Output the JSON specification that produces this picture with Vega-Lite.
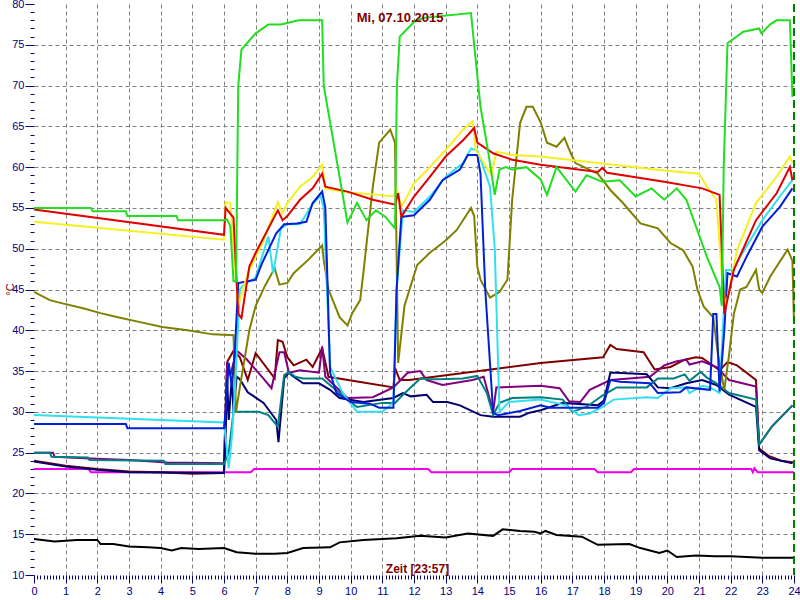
{
  "$schema": "https://vega.github.io/schema/vega-lite/v6.json",
  "width": 760,
  "height": 571,
  "autosize": {"type": "none"},
  "padding": {"left": 34, "top": 4, "right": 6, "bottom": 25},
  "background": "white",
  "config": {"view": {"stroke": null}, "font": "Liberation Sans"},
  "resolve": {"axis": {"x": "independent", "y": "independent"}},
  "datasets": {
    "temps": [
      {"s":"k","h":0,"t":14.4},{"s":"k","h":0.65,"t":14.1},{"s":"k","h":1.35,"t":14.3},{"s":"k","h":2.0,"t":14.3},{"s":"k","h":2.1,"t":13.8},{"s":"k","h":2.5,"t":13.8},{"s":"k","h":3.0,"t":13.5},{"s":"k","h":3.6,"t":13.4},{"s":"k","h":4.0,"t":13.3},{"s":"k","h":4.35,"t":13.0},{"s":"k","h":4.65,"t":13.3},{"s":"k","h":5.2,"t":13.2},{"s":"k","h":6.0,"t":13.3},{"s":"k","h":6.4,"t":12.8},{"s":"k","h":7.0,"t":12.6},{"s":"k","h":7.6,"t":12.6},{"s":"k","h":8.0,"t":12.7},{"s":"k","h":8.5,"t":13.3},{"s":"k","h":9.35,"t":13.4},{"s":"k","h":9.65,"t":14.0},{"s":"k","h":10.4,"t":14.3},{"s":"k","h":11.45,"t":14.5},{"s":"k","h":12.2,"t":14.8},{"s":"k","h":13.0,"t":14.6},{"s":"k","h":13.7,"t":15.1},{"s":"k","h":14.5,"t":14.8},{"s":"k","h":14.8,"t":15.6},{"s":"k","h":15.35,"t":15.4},{"s":"k","h":15.8,"t":15.3},{"s":"k","h":16.0,"t":15.1},{"s":"k","h":16.15,"t":15.4},{"s":"k","h":16.5,"t":14.9},{"s":"k","h":17.3,"t":14.7},{"s":"k","h":17.8,"t":13.7},{"s":"k","h":18.8,"t":13.8},{"s":"k","h":19.15,"t":13.3},{"s":"k","h":19.75,"t":12.7},{"s":"k","h":20.0,"t":13.0},{"s":"k","h":20.3,"t":12.2},{"s":"k","h":20.9,"t":12.4},{"s":"k","h":21.5,"t":12.3},{"s":"k","h":22.0,"t":12.3},{"s":"k","h":23.0,"t":12.1},{"s":"k","h":24,"t":12.1},

      {"s":"mg","h":0,"t":23},{"s":"mg","h":1.72,"t":23},{"s":"mg","h":1.8,"t":22.6},{"s":"mg","h":6.85,"t":22.6},{"s":"mg","h":6.95,"t":23},{"s":"mg","h":12.45,"t":23},{"s":"mg","h":12.55,"t":22.6},{"s":"mg","h":15.0,"t":22.6},{"s":"mg","h":15.1,"t":23},{"s":"mg","h":17.7,"t":23},{"s":"mg","h":17.8,"t":22.6},{"s":"mg","h":18.85,"t":22.6},{"s":"mg","h":18.95,"t":23},{"s":"mg","h":22.65,"t":23},{"s":"mg","h":22.7,"t":22.6},{"s":"mg","h":22.75,"t":23.1},{"s":"mg","h":22.85,"t":22.6},{"s":"mg","h":24,"t":22.6},

      {"s":"m","h":0,"t":24},{"s":"m","h":1,"t":23.4},{"s":"m","h":2,"t":23},{"s":"m","h":3,"t":22.7},{"s":"m","h":4,"t":22.6},{"s":"m","h":5,"t":22.4},{"s":"m","h":6.0,"t":22.5},{"s":"m","h":6.05,"t":30},{"s":"m","h":6.1,"t":36.1},{"s":"m","h":6.3,"t":37.5},{"s":"m","h":6.5,"t":36.7},{"s":"m","h":6.75,"t":33.9},{"s":"m","h":7.0,"t":37.2},{"s":"m","h":7.6,"t":34.1},{"s":"m","h":7.7,"t":38.8},{"s":"m","h":7.85,"t":38.6},{"s":"m","h":8.0,"t":36.7},{"s":"m","h":8.2,"t":35.7},{"s":"m","h":8.6,"t":36.4},{"s":"m","h":8.8,"t":35.5},{"s":"m","h":9.1,"t":37.8},{"s":"m","h":9.3,"t":34.3},{"s":"m","h":11.35,"t":33},{"s":"m","h":11.4,"t":35.4},{"s":"m","h":11.55,"t":33.9},{"s":"m","h":11.85,"t":33.9},{"s":"m","h":16,"t":36},{"s":"m","h":17.97,"t":36.7},{"s":"m","h":18.2,"t":38.2},{"s":"m","h":18.4,"t":37.7},{"s":"m","h":19.25,"t":37.3},{"s":"m","h":19.6,"t":35.2},{"s":"m","h":20.1,"t":35.5},{"s":"m","h":20.55,"t":36.4},{"s":"m","h":20.9,"t":36.7},{"s":"m","h":21.1,"t":36.6},{"s":"m","h":21.65,"t":35.1},{"s":"m","h":21.9,"t":36.1},{"s":"m","h":22.2,"t":35.7},{"s":"m","h":22.8,"t":33.9},{"s":"m","h":22.9,"t":25.5},{"s":"m","h":23.2,"t":24.6},{"s":"m","h":23.6,"t":24},{"s":"m","h":24,"t":23.8},

      {"s":"p","h":0,"t":25},{"s":"p","h":0.6,"t":25},{"s":"p","h":0.65,"t":24.5},{"s":"p","h":1.6,"t":24.3},{"s":"p","h":3,"t":24.1},{"s":"p","h":4.2,"t":23.8},{"s":"p","h":6.0,"t":23.7},{"s":"p","h":6.05,"t":30},{"s":"p","h":6.1,"t":36.1},{"s":"p","h":6.2,"t":34.5},{"s":"p","h":6.4,"t":37.5},{"s":"p","h":6.7,"t":36.5},{"s":"p","h":7.2,"t":34.3},{"s":"p","h":7.5,"t":32.9},{"s":"p","h":7.75,"t":37.3},{"s":"p","h":7.9,"t":37.3},{"s":"p","h":8.05,"t":34.8},{"s":"p","h":8.4,"t":35.1},{"s":"p","h":9.0,"t":34.8},{"s":"p","h":9.1,"t":38},{"s":"p","h":9.2,"t":34.3},{"s":"p","h":9.9,"t":31.7},{"s":"p","h":10.7,"t":31.8},{"s":"p","h":11.35,"t":33},{"s":"p","h":11.8,"t":34.8},{"s":"p","h":12.2,"t":35},{"s":"p","h":12.4,"t":33.9},{"s":"p","h":12.9,"t":33.3},{"s":"p","h":13.85,"t":33.9},{"s":"p","h":14.2,"t":34.3},{"s":"p","h":14.5,"t":30},{"s":"p","h":14.6,"t":33},{"s":"p","h":16,"t":33.2},{"s":"p","h":16.6,"t":32.9},{"s":"p","h":16.9,"t":31.3},{"s":"p","h":17.25,"t":31.2},{"s":"p","h":17.55,"t":32.7},{"s":"p","h":18.2,"t":33.9},{"s":"p","h":18.8,"t":34.1},{"s":"p","h":19.45,"t":34.3},{"s":"p","h":19.9,"t":35.7},{"s":"p","h":20.3,"t":36.2},{"s":"p","h":20.6,"t":36.4},{"s":"p","h":20.7,"t":35.8},{"s":"p","h":21.1,"t":36.2},{"s":"p","h":21.55,"t":35.5},{"s":"p","h":21.95,"t":33.9},{"s":"p","h":22.8,"t":33.1},{"s":"p","h":22.9,"t":26},{"s":"p","h":23.3,"t":28.2},{"s":"p","h":23.95,"t":30.8},

      {"s":"n","h":0,"t":23.9},{"s":"n","h":1,"t":23.3},{"s":"n","h":2,"t":22.9},{"s":"n","h":3,"t":22.6},{"s":"n","h":6.0,"t":22.5},{"s":"n","h":6.05,"t":27},{"s":"n","h":6.1,"t":34},{"s":"n","h":6.15,"t":29},{"s":"n","h":6.25,"t":34.3},{"s":"n","h":6.3,"t":30},{"s":"n","h":6.4,"t":34.3},{"s":"n","h":6.5,"t":34},{"s":"n","h":6.75,"t":32.4},{"s":"n","h":7.25,"t":31.1},{"s":"n","h":7.65,"t":29},{"s":"n","h":7.72,"t":26.3},{"s":"n","h":7.9,"t":34.1},{"s":"n","h":8.05,"t":34.8},{"s":"n","h":8.2,"t":34.3},{"s":"n","h":8.5,"t":33.5},{"s":"n","h":9.0,"t":33.5},{"s":"n","h":9.35,"t":32.7},{"s":"n","h":9.65,"t":31.7},{"s":"n","h":10.4,"t":31.2},{"s":"n","h":11.35,"t":31.7},{"s":"n","h":11.65,"t":32.3},{"s":"n","h":11.9,"t":31.9},{"s":"n","h":12.4,"t":32.1},{"s":"n","h":12.6,"t":31.2},{"s":"n","h":13.05,"t":31.2},{"s":"n","h":13.45,"t":30.8},{"s":"n","h":14.1,"t":29.6},{"s":"n","h":14.5,"t":29.4},{"s":"n","h":15.35,"t":29.4},{"s":"n","h":15.65,"t":29.9},{"s":"n","h":16,"t":30.2},{"s":"n","h":16.7,"t":31.1},{"s":"n","h":17.8,"t":30.8},{"s":"n","h":18.0,"t":31.4},{"s":"n","h":18.2,"t":34.8},{"s":"n","h":18.4,"t":34.8},{"s":"n","h":19.35,"t":34.6},{"s":"n","h":19.7,"t":33},{"s":"n","h":20.1,"t":32.9},{"s":"n","h":20.6,"t":33.5},{"s":"n","h":21.1,"t":33.9},{"s":"n","h":21.55,"t":33.3},{"s":"n","h":21.95,"t":32.1},{"s":"n","h":22.8,"t":30.6},{"s":"n","h":22.9,"t":25.3},{"s":"n","h":23.25,"t":24.3},{"s":"n","h":23.95,"t":23.7},

      {"s":"t","h":0,"t":25},{"s":"t","h":0.5,"t":25},{"s":"t","h":0.55,"t":24.5},{"s":"t","h":1.7,"t":24.4},{"s":"t","h":1.75,"t":24.1},{"s":"t","h":4.1,"t":24.0},{"s":"t","h":4.15,"t":23.6},{"s":"t","h":6.0,"t":23.6},{"s":"t","h":6.15,"t":25},{"s":"t","h":6.3,"t":30},{"s":"t","h":7.1,"t":30},{"s":"t","h":7.4,"t":29.6},{"s":"t","h":7.7,"t":28.2},{"s":"t","h":7.9,"t":34.5},{"s":"t","h":8.05,"t":34.9},{"s":"t","h":8.25,"t":34.3},{"s":"t","h":8.5,"t":34.1},{"s":"t","h":9.1,"t":34.1},{"s":"t","h":9.9,"t":31.5},{"s":"t","h":10.2,"t":30.6},{"s":"t","h":11.0,"t":31.1},{"s":"t","h":11.4,"t":31.1},{"s":"t","h":11.65,"t":32.1},{"s":"t","h":12.2,"t":34.1},{"s":"t","h":12.5,"t":34},{"s":"t","h":12.8,"t":34},{"s":"t","h":13.55,"t":34.1},{"s":"t","h":14.0,"t":34.4},{"s":"t","h":14.3,"t":32.3},{"s":"t","h":14.5,"t":29.6},{"s":"t","h":14.7,"t":31.1},{"s":"t","h":15.1,"t":31.7},{"s":"t","h":16,"t":31.8},{"s":"t","h":16.7,"t":31.5},{"s":"t","h":17.0,"t":30},{"s":"t","h":17.45,"t":30.6},{"s":"t","h":17.95,"t":32},{"s":"t","h":18.4,"t":33},{"s":"t","h":19.35,"t":33},{"s":"t","h":19.7,"t":34.1},{"s":"t","h":20.2,"t":34.1},{"s":"t","h":20.55,"t":34.6},{"s":"t","h":20.7,"t":33.8},{"s":"t","h":21.05,"t":34.9},{"s":"t","h":21.25,"t":34.2},{"s":"t","h":21.55,"t":33.5},{"s":"t","h":21.95,"t":32.3},{"s":"t","h":22.8,"t":31.5},{"s":"t","h":22.9,"t":26},{"s":"t","h":23.3,"t":28.2},{"s":"t","h":23.95,"t":30.8},

      {"s":"o","h":0,"t":44.7},{"s":"o","h":0.5,"t":43.7},{"s":"o","h":0.9,"t":43.3},{"s":"o","h":1.55,"t":42.7},{"s":"o","h":2.1,"t":42.1},{"s":"o","h":2.65,"t":41.6},{"s":"o","h":3.35,"t":41},{"s":"o","h":4.05,"t":40.4},{"s":"o","h":4.85,"t":40.0},{"s":"o","h":5.65,"t":39.5},{"s":"o","h":6.3,"t":39.4},{"s":"o","h":6.38,"t":30},{"s":"o","h":6.5,"t":33},{"s":"o","h":6.8,"t":40},{"s":"o","h":7.0,"t":43},{"s":"o","h":7.3,"t":45.5},{"s":"o","h":7.6,"t":47.6},{"s":"o","h":7.75,"t":45.6},{"s":"o","h":8.0,"t":45.8},{"s":"o","h":8.2,"t":47},{"s":"o","h":8.65,"t":48.6},{"s":"o","h":9.1,"t":50.4},{"s":"o","h":9.15,"t":48.6},{"s":"o","h":9.3,"t":45},{"s":"o","h":9.65,"t":41.6},{"s":"o","h":9.9,"t":40.6},{"s":"o","h":10.05,"t":42.1},{"s":"o","h":10.3,"t":43.7},{"s":"o","h":10.4,"t":47},{"s":"o","h":10.7,"t":57.6},{"s":"o","h":10.9,"t":63},{"s":"o","h":11.25,"t":64.6},{"s":"o","h":11.4,"t":63},{"s":"o","h":11.5,"t":36},{"s":"o","h":11.7,"t":43},{"s":"o","h":12.1,"t":48},{"s":"o","h":12.5,"t":49.5},{"s":"o","h":13.0,"t":51},{"s":"o","h":13.35,"t":52.3},{"s":"o","h":13.8,"t":55},{"s":"o","h":13.9,"t":54},{"s":"o","h":14.0,"t":47.8},{"s":"o","h":14.1,"t":46.2},{"s":"o","h":14.4,"t":44},{"s":"o","h":14.7,"t":44.7},{"s":"o","h":14.95,"t":46.2},{"s":"o","h":15.1,"t":56},{"s":"o","h":15.35,"t":65.4},{"s":"o","h":15.55,"t":67.4},{"s":"o","h":15.75,"t":67.4},{"s":"o","h":16.0,"t":65.5},{"s":"o","h":16.2,"t":63},{"s":"o","h":16.5,"t":62.5},{"s":"o","h":16.75,"t":63.6},{"s":"o","h":16.95,"t":61.7},{"s":"o","h":17.1,"t":60.5},{"s":"o","h":17.8,"t":59.2},{"s":"o","h":18.2,"t":57.2},{"s":"o","h":18.6,"t":55.6},{"s":"o","h":19.15,"t":53.1},{"s":"o","h":19.7,"t":52.5},{"s":"o","h":20.1,"t":50.7},{"s":"o","h":20.5,"t":49.8},{"s":"o","h":20.8,"t":47.8},{"s":"o","h":20.95,"t":45},{"s":"o","h":21.15,"t":42.9},{"s":"o","h":21.45,"t":41.6},{"s":"o","h":21.6,"t":37},{"s":"o","h":21.8,"t":32.7},{"s":"o","h":21.95,"t":37},{"s":"o","h":22.1,"t":42},{"s":"o","h":22.3,"t":45},{"s":"o","h":22.5,"t":45.3},{"s":"o","h":22.8,"t":47.4},{"s":"o","h":22.9,"t":45},{"s":"o","h":23.0,"t":44.6},{"s":"o","h":23.25,"t":46.6},{"s":"o","h":23.8,"t":49.9},{"s":"o","h":23.95,"t":48.5},{"s":"o","h":24,"t":41},

      {"s":"c","h":0,"t":29.6},{"s":"c","h":6.0,"t":28.7},{"s":"c","h":6.1,"t":25},{"s":"c","h":6.15,"t":23.1},{"s":"c","h":6.25,"t":27},{"s":"c","h":6.35,"t":33},{"s":"c","h":6.5,"t":45},{"s":"c","h":6.6,"t":45.5},{"s":"c","h":7.0,"t":46.5},{"s":"c","h":7.4,"t":51.5},{"s":"c","h":7.55,"t":47},{"s":"c","h":7.8,"t":52.5},{"s":"c","h":8.0,"t":53},{"s":"c","h":8.4,"t":53},{"s":"c","h":8.8,"t":55.5},{"s":"c","h":9.05,"t":56.5},{"s":"c","h":9.15,"t":55},{"s":"c","h":9.35,"t":35.5},{"s":"c","h":9.75,"t":32.3},{"s":"c","h":10.2,"t":30},{"s":"c","h":11.0,"t":30},{"s":"c","h":11.35,"t":31.1},{"s":"c","h":11.45,"t":45},{"s":"c","h":11.65,"t":54.7},{"s":"c","h":12.0,"t":54.5},{"s":"c","h":12.5,"t":56.4},{"s":"c","h":13.0,"t":58.8},{"s":"c","h":13.55,"t":60.5},{"s":"c","h":13.8,"t":62.3},{"s":"c","h":14.0,"t":62},{"s":"c","h":14.1,"t":61},{"s":"c","h":14.4,"t":57.6},{"s":"c","h":14.55,"t":50},{"s":"c","h":14.7,"t":30},{"s":"c","h":15.0,"t":31.2},{"s":"c","h":16.0,"t":31.5},{"s":"c","h":16.8,"t":30.8},{"s":"c","h":17.2,"t":29.6},{"s":"c","h":17.55,"t":29.8},{"s":"c","h":17.95,"t":30.6},{"s":"c","h":18.3,"t":31.5},{"s":"c","h":19.35,"t":31.8},{"s":"c","h":19.7,"t":31.7},{"s":"c","h":20.1,"t":32.9},{"s":"c","h":20.6,"t":33},{"s":"c","h":20.7,"t":32.3},{"s":"c","h":21.1,"t":33.2},{"s":"c","h":21.35,"t":33},{"s":"c","h":21.65,"t":32.3},{"s":"c","h":21.85,"t":47.4},{"s":"c","h":22.05,"t":47.4},{"s":"c","h":22.3,"t":49},{"s":"c","h":23,"t":53.5},{"s":"c","h":23.55,"t":56.4},{"s":"c","h":23.95,"t":58.4},

      {"s":"b","h":0,"t":28.5},{"s":"b","h":2.9,"t":28.5},{"s":"b","h":2.95,"t":28},{"s":"b","h":6.0,"t":28},{"s":"b","h":6.05,"t":30},{"s":"b","h":6.15,"t":36},{"s":"b","h":6.25,"t":33},{"s":"b","h":6.35,"t":38},{"s":"b","h":6.45,"t":45.8},{"s":"b","h":7.0,"t":46.2},{"s":"b","h":7.2,"t":48.2},{"s":"b","h":7.65,"t":51.9},{"s":"b","h":7.9,"t":53},{"s":"b","h":8.3,"t":53.1},{"s":"b","h":8.6,"t":53.3},{"s":"b","h":8.8,"t":55.6},{"s":"b","h":9.1,"t":57},{"s":"b","h":9.2,"t":55},{"s":"b","h":9.35,"t":34.8},{"s":"b","h":9.55,"t":32.3},{"s":"b","h":10.0,"t":31.2},{"s":"b","h":10.6,"t":31.0},{"s":"b","h":10.9,"t":30.5},{"s":"b","h":11.35,"t":30.5},{"s":"b","h":11.45,"t":45},{"s":"b","h":11.6,"t":53.9},{"s":"b","h":12.0,"t":54.1},{"s":"b","h":12.5,"t":56},{"s":"b","h":12.9,"t":58.4},{"s":"b","h":13.45,"t":59.7},{"s":"b","h":13.7,"t":61.5},{"s":"b","h":14.0,"t":61.5},{"s":"b","h":14.1,"t":59.2},{"s":"b","h":14.25,"t":45},{"s":"b","h":14.5,"t":29.9},{"s":"b","h":14.65,"t":29.6},{"s":"b","h":15.35,"t":30.1},{"s":"b","h":16.0,"t":30.8},{"s":"b","h":16.3,"t":30.5},{"s":"b","h":17.8,"t":30.5},{"s":"b","h":18.0,"t":31.1},{"s":"b","h":18.2,"t":33.9},{"s":"b","h":18.5,"t":33.7},{"s":"b","h":19.45,"t":33.5},{"s":"b","h":19.7,"t":32.3},{"s":"b","h":20.4,"t":32.4},{"s":"b","h":20.6,"t":33},{"s":"b","h":21.35,"t":32.7},{"s":"b","h":21.45,"t":42},{"s":"b","h":21.55,"t":42},{"s":"b","h":21.65,"t":32.5},{"s":"b","h":21.8,"t":40},{"s":"b","h":21.9,"t":47},{"s":"b","h":22.2,"t":46.6},{"s":"b","h":22.5,"t":49},{"s":"b","h":23,"t":52.7},{"s":"b","h":23.55,"t":55.1},{"s":"b","h":23.95,"t":57.4},

      {"s":"y","h":0,"t":53.3},{"s":"y","h":6.0,"t":51.1},{"s":"y","h":6.05,"t":55.7},{"s":"y","h":6.2,"t":55.6},{"s":"y","h":6.3,"t":50},{"s":"y","h":6.45,"t":43},{"s":"y","h":6.75,"t":47},{"s":"y","h":7.25,"t":51},{"s":"y","h":7.7,"t":55.7},{"s":"y","h":7.85,"t":54.4},{"s":"y","h":8.0,"t":55.6},{"s":"y","h":8.4,"t":57.6},{"s":"y","h":8.8,"t":58.8},{"s":"y","h":9.1,"t":60.3},{"s":"y","h":9.2,"t":57.4},{"s":"y","h":9.9,"t":56.9},{"s":"y","h":10.9,"t":56.6},{"s":"y","h":11.35,"t":56.4},{"s":"y","h":11.45,"t":57.4},{"s":"y","h":11.6,"t":55.1},{"s":"y","h":12.0,"t":58},{"s":"y","h":12.5,"t":60},{"s":"y","h":13.0,"t":62.1},{"s":"y","h":13.55,"t":64.6},{"s":"y","h":13.85,"t":65.6},{"s":"y","h":13.95,"t":62.1},{"s":"y","h":14.45,"t":59},{"s":"y","h":14.6,"t":61.9},{"s":"y","h":15.1,"t":61.5},{"s":"y","h":16,"t":61.3},{"s":"y","h":17.8,"t":60.5},{"s":"y","h":19.9,"t":59.6},{"s":"y","h":21.0,"t":59.2},{"s":"y","h":21.25,"t":57.6},{"s":"y","h":21.55,"t":56},{"s":"y","h":21.75,"t":45},{"s":"y","h":21.85,"t":43},{"s":"y","h":22.2,"t":49.8},{"s":"y","h":22.8,"t":55.6},{"s":"y","h":23.45,"t":58.8},{"s":"y","h":23.87,"t":61.3},{"s":"y","h":23.95,"t":60.5},

      {"s":"r","h":0,"t":54.8},{"s":"r","h":6.0,"t":51.7},{"s":"r","h":6.05,"t":55},{"s":"r","h":6.3,"t":53.8},{"s":"r","h":6.45,"t":42},{"s":"r","h":6.55,"t":41.5},{"s":"r","h":6.8,"t":47.8},{"s":"r","h":7.0,"t":49.5},{"s":"r","h":7.7,"t":54.7},{"s":"r","h":7.85,"t":53.5},{"s":"r","h":8.0,"t":54},{"s":"r","h":8.4,"t":56},{"s":"r","h":8.8,"t":57.4},{"s":"r","h":9.1,"t":59.2},{"s":"r","h":9.2,"t":57.6},{"s":"r","h":9.9,"t":57},{"s":"r","h":10.7,"t":56},{"s":"r","h":11.4,"t":55.4},{"s":"r","h":11.5,"t":56.8},{"s":"r","h":11.6,"t":53.9},{"s":"r","h":12.0,"t":56.4},{"s":"r","h":12.5,"t":58.8},{"s":"r","h":13.0,"t":61.3},{"s":"r","h":13.55,"t":63.3},{"s":"r","h":13.9,"t":64.8},{"s":"r","h":14.0,"t":63},{"s":"r","h":14.5,"t":61.7},{"s":"r","h":15.1,"t":60.9},{"s":"r","h":16.0,"t":60.3},{"s":"r","h":17.8,"t":59.4},{"s":"r","h":17.95,"t":59.9},{"s":"r","h":18.1,"t":59.3},{"s":"r","h":19.9,"t":58.2},{"s":"r","h":21.1,"t":57.4},{"s":"r","h":21.65,"t":56.6},{"s":"r","h":21.8,"t":42},{"s":"r","h":22.1,"t":47.4},{"s":"r","h":22.8,"t":53.5},{"s":"r","h":23.45,"t":56.8},{"s":"r","h":23.87,"t":60},{"s":"r","h":23.95,"t":58.4},

      {"s":"g","h":0,"t":55},{"s":"g","h":1.8,"t":55},{"s":"g","h":1.85,"t":54.6},{"s":"g","h":2.9,"t":54.6},{"s":"g","h":2.95,"t":54},{"s":"g","h":4.5,"t":54},{"s":"g","h":4.55,"t":53.5},{"s":"g","h":6.0,"t":53.5},{"s":"g","h":6.1,"t":53.6},{"s":"g","h":6.2,"t":52.7},{"s":"g","h":6.3,"t":46},{"s":"g","h":6.38,"t":46},{"s":"g","h":6.45,"t":70},{"s":"g","h":6.55,"t":74.4},{"s":"g","h":7.0,"t":76.4},{"s":"g","h":7.4,"t":77.5},{"s":"g","h":7.8,"t":77.5},{"s":"g","h":8.35,"t":78},{"s":"g","h":9.1,"t":78},{"s":"g","h":9.15,"t":70},{"s":"g","h":9.9,"t":53.2},{"s":"g","h":10.2,"t":55.6},{"s":"g","h":10.5,"t":53.5},{"s":"g","h":10.8,"t":54.7},{"s":"g","h":11.1,"t":53.9},{"s":"g","h":11.4,"t":52.5},{"s":"g","h":11.46,"t":70},{"s":"g","h":11.55,"t":76},{"s":"g","h":11.8,"t":77},{"s":"g","h":12.0,"t":77.8},{"s":"g","h":12.3,"t":78.3},{"s":"g","h":13.8,"t":78.9},{"s":"g","h":13.9,"t":75},{"s":"g","h":14.1,"t":67.4},{"s":"g","h":14.35,"t":61.7},{"s":"g","h":14.55,"t":56.6},{"s":"g","h":14.7,"t":59.7},{"s":"g","h":14.9,"t":60},{"s":"g","h":15.1,"t":59.7},{"s":"g","h":15.55,"t":60},{"s":"g","h":16.0,"t":58.5},{"s":"g","h":16.2,"t":56.6},{"s":"g","h":16.5,"t":60},{"s":"g","h":17.1,"t":57},{"s":"g","h":17.45,"t":59},{"s":"g","h":17.95,"t":58.2},{"s":"g","h":18.5,"t":58.4},{"s":"g","h":19.0,"t":56.4},{"s":"g","h":19.5,"t":57.4},{"s":"g","h":19.9,"t":56},{"s":"g","h":20.3,"t":57.4},{"s":"g","h":20.6,"t":56},{"s":"g","h":21.25,"t":49},{"s":"g","h":21.65,"t":45.3},{"s":"g","h":21.72,"t":43},{"s":"g","h":21.78,"t":60},{"s":"g","h":21.9,"t":75.2},{"s":"g","h":22.4,"t":76.6},{"s":"g","h":22.9,"t":77},{"s":"g","h":22.97,"t":76.4},{"s":"g","h":23.25,"t":77.5},{"s":"g","h":23.45,"t":78},{"s":"g","h":23.87,"t":78},{"s":"g","h":23.95,"t":68.6}
    ]
  },
  "layer": [
    {
      "data": {"values": []},
      "mark": "point",
      "encoding": {
        "x": {"field": "h", "type": "quantitative", "scale": {"domain": [0, 24], "nice": false, "zero": false},
              "axis": {"orient": "bottom", "values": [1,2,3,4,5,6,7,8,9,10,11,12,13,14,15,16,17,18,19,20,21,22,23], "grid": true, "gridColor": "#808080", "gridDash": [4, 3], "gridWidth": 1, "ticks": false, "labels": false, "domain": false, "title": null}},
        "y": {"field": "t", "type": "quantitative", "scale": {"domain": [10, 80], "nice": false, "zero": false},
              "axis": {"orient": "left", "values": [15,20,25,30,35,40,45,50,55,60,65,70,75], "grid": true, "gridColor": "#808080", "gridDash": [4, 3], "gridWidth": 1, "ticks": false, "labels": false, "domain": false, "title": null}}
      }
    },
    {
      "data": {"values": []},
      "mark": "point",
      "encoding": {
        "x": {"field": "h", "type": "quantitative",
              "axis": {"orient": "bottom", "values": [0.1,0.2,0.3,0.4,0.5,0.6,0.7,0.8,0.9,1.1,1.2,1.3,1.4,1.5,1.6,1.7,1.8,1.9,2.1,2.2,2.3,2.4,2.5,2.6,2.7,2.8,2.9,3.1,3.2,3.3,3.4,3.5,3.6,3.7,3.8,3.9,4.1,4.2,4.3,4.4,4.5,4.6,4.7,4.8,4.9,5.1,5.2,5.3,5.4,5.5,5.6,5.7,5.8,5.9,6.1,6.2,6.3,6.4,6.5,6.6,6.7,6.8,6.9,7.1,7.2,7.3,7.4,7.5,7.6,7.7,7.8,7.9,8.1,8.2,8.3,8.4,8.5,8.6,8.7,8.8,8.9,9.1,9.2,9.3,9.4,9.5,9.6,9.7,9.8,9.9,10.1,10.2,10.3,10.4,10.5,10.6,10.7,10.8,10.9,11.1,11.2,11.3,11.4,11.5,11.6,11.7,11.8,11.9,12.1,12.2,12.3,12.4,12.5,12.6,12.7,12.8,12.9,13.1,13.2,13.3,13.4,13.5,13.6,13.7,13.8,13.9,14.1,14.2,14.3,14.4,14.5,14.6,14.7,14.8,14.9,15.1,15.2,15.3,15.4,15.5,15.6,15.7,15.8,15.9,16.1,16.2,16.3,16.4,16.5,16.6,16.7,16.8,16.9,17.1,17.2,17.3,17.4,17.5,17.6,17.7,17.8,17.9,18.1,18.2,18.3,18.4,18.5,18.6,18.7,18.8,18.9,19.1,19.2,19.3,19.4,19.5,19.6,19.7,19.8,19.9,20.1,20.2,20.3,20.4,20.5,20.6,20.7,20.8,20.9,21.1,21.2,21.3,21.4,21.5,21.6,21.7,21.8,21.9,22.1,22.2,22.3,22.4,22.5,22.6,22.7,22.8,22.9,23.1,23.2,23.3,23.4,23.5,23.6,23.7,23.8,23.9], "grid": false, "labels": false, "domain": false, "tickColor": "#000080", "tickSize": 4, "tickWidth": 1, "title": null}},
        "y": {"field": "t", "type": "quantitative",
              "axis": {"orient": "left", "values": [11,12,13,14,16,17,18,19,21,22,23,24,26,27,28,29,31,32,33,34,36,37,38,39,41,42,43,44,46,47,48,49,51,52,53,54,56,57,58,59,61,62,63,64,66,67,68,69,71,72,73,74,76,77,78,79], "grid": false, "labels": false, "domain": false, "tickColor": "#000080", "tickSize": 4, "tickWidth": 1, "title": null}}
      }
    },
    {
      "data": {"name": "temps"},
      "mark": {"type": "line", "strokeWidth": 2, "interpolate": "linear"},
      "encoding": {
        "x": {"field": "h", "type": "quantitative",
              "axis": {"orient": "bottom", "values": [0,1,2,3,4,5,6,7,8,9,10,11,12,13,14,15,16,17,18,19,20,21,22,23,24], "format": "d", "grid": false, "domain": false, "tickColor": "#000080", "tickSize": 8, "tickWidth": 1, "labelColor": "#000080", "labelFont": "Liberation Sans", "labelFontSize": 11, "labelPadding": 2, "labelFlush": false, "labelBound": false,
                       "title": "Zeit [23:57]", "titleColor": "#800000", "titleFont": "Liberation Sans", "titleFontSize": 12, "titleFontWeight": "bold", "titleX": 383, "titleY": -3, "titleAlign": "center", "titleBaseline": "alphabetic"}},
        "y": {"field": "t", "type": "quantitative",
              "axis": {"orient": "left", "values": [10,15,20,25,30,35,40,45,50,55,60,65,70,75,80], "grid": false, "domain": false, "tickColor": "#000080", "tickSize": 9, "tickWidth": 1, "labelColor": "#000080", "labelFont": "Liberation Sans", "labelFontSize": 11, "labelPadding": 1, "labelBound": false,
                       "title": "°C", "titleColor": "#800000", "titleFont": "Liberation Sans", "titleFontSize": 11, "titleFontWeight": "normal", "titleX": -24, "titleY": 285, "titleAngle": 270, "titleAlign": "center", "titleBaseline": "middle"}},
        "color": {"field": "s", "type": "nominal", "legend": null,
                  "scale": {"domain": ["k","mg","m","p","n","t","o","c","b","y","r","g"],
                            "range": ["#000000","#ee00ee","#800000","#800080","#000070","#008080","#808000","#30e0f0","#0020d8","#f5f020","#e00000","#22dd22"]}}
      }
    },
    {
      "data": {"values": [{"x": 24}]},
      "mark": {"type": "rule", "color": "#008000", "strokeWidth": 2, "strokeDash": [8, 4]},
      "encoding": {"x": {"field": "x", "type": "quantitative", "axis": null}}
    },
    {
      "data": {"values": [{"label": "Mi, 07.10.2015", "x": 11.56, "y": 77.8}]},
      "mark": {"type": "text", "color": "#800000", "font": "Liberation Sans", "fontSize": 13, "fontWeight": "bold", "align": "center", "baseline": "alphabetic"},
      "encoding": {
        "x": {"field": "x", "type": "quantitative", "axis": null},
        "y": {"field": "y", "type": "quantitative", "axis": null},
        "text": {"field": "label"}
      }
    }
  ]
}
